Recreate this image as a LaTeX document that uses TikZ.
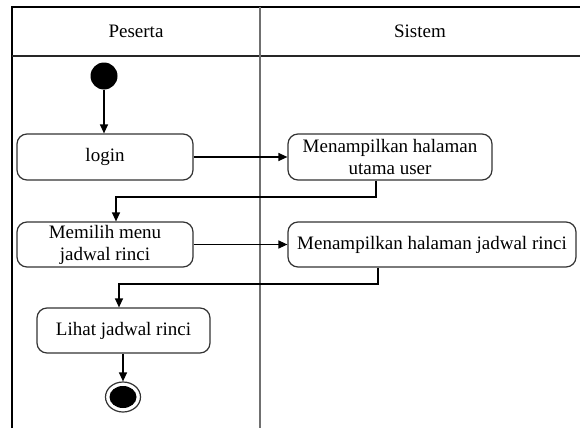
\documentclass[tikz,border=0pt]{standalone}
\usepackage{fontspec}
\setmainfont{Liberation Serif}
\usetikzlibrary{arrows.meta,shapes.geometric}
\definecolor{lanegray}{HTML}{707070}
\definecolor{boxedge}{HTML}{333333}
\begin{document}
\begin{tikzpicture}[x=1pt,y=-1pt,
  every node/.style={font=\fontsize{19}{22}\selectfont},
  action/.style={draw=boxedge,line width=1.2pt,rounded corners=10pt,
    inner sep=0pt,align=center,fill=white},
  flow/.style={line width=1.2pt,-{Triangle[length=9pt,width=8pt]}},
  frameline/.style={line width=2.4pt,black},
  laneline/.style={line width=2pt,lanegray}]
\useasboundingbox (0,0) rectangle (580,428);
% swimlane frame
\draw[frameline] (12,428) -- (12,7) -- (580,7);
\draw[line width=1.5pt,black!85] (12,56) -- (580,56);
\draw[laneline] (260,7) -- (260,428);
\node (hPeserta) at (136,31) {Peserta};
\node (hSistem) at (420,31) {Sistem};
% activity nodes
\node[circle,fill=black,inner sep=0pt,minimum size=27pt] (start) at (104,76) {};
\node[action,minimum width=176pt,minimum height=46pt] (login) at (105,157) {login};
\node[action,minimum width=204pt,minimum height=46pt] (utama) at (390,157) {Menampilkan halaman\\utama user};
\node[action,minimum width=176pt,minimum height=45pt] (memilih) at (105,244.5) {Memilih menu\\jadwal rinci};
\node[action,minimum width=288pt,minimum height=45pt] (jadwal) at (432,244.5) {Menampilkan halaman jadwal rinci};
\node[action,minimum width=173pt,minimum height=45pt] (lihat) at (123.5,330.5) {Lihat jadwal rinci};
\node[ellipse,draw=boxedge,line width=1.2pt,fill=white,inner sep=0pt,
  minimum width=35pt,minimum height=30pt] (end) at (123,397) {};
\node[ellipse,fill=black,inner sep=0pt,minimum width=27pt,minimum height=22pt] (endcore) at (end.center) {};
% bend points
\coordinate (b1) at (376,197);
\coordinate (k1) at (116,197);
\coordinate (b2) at (378,284);
\coordinate (k2) at (119,284);
% control flow
\draw[flow] (start) -- (login.north -| start);
\draw[flow] (login.east) -- (utama.west);
\draw[flow] (utama.south -| b1) -- (b1) -- (k1) -- (memilih.north -| k1);
\draw[flow] (memilih.east) -- (jadwal.west);
\draw[flow] (jadwal.south -| b2) -- (b2) -- (k2) -- (lihat.north -| k2);
\draw[flow] (lihat.south -| end) -- (end.north);
\end{tikzpicture}
\end{document}
